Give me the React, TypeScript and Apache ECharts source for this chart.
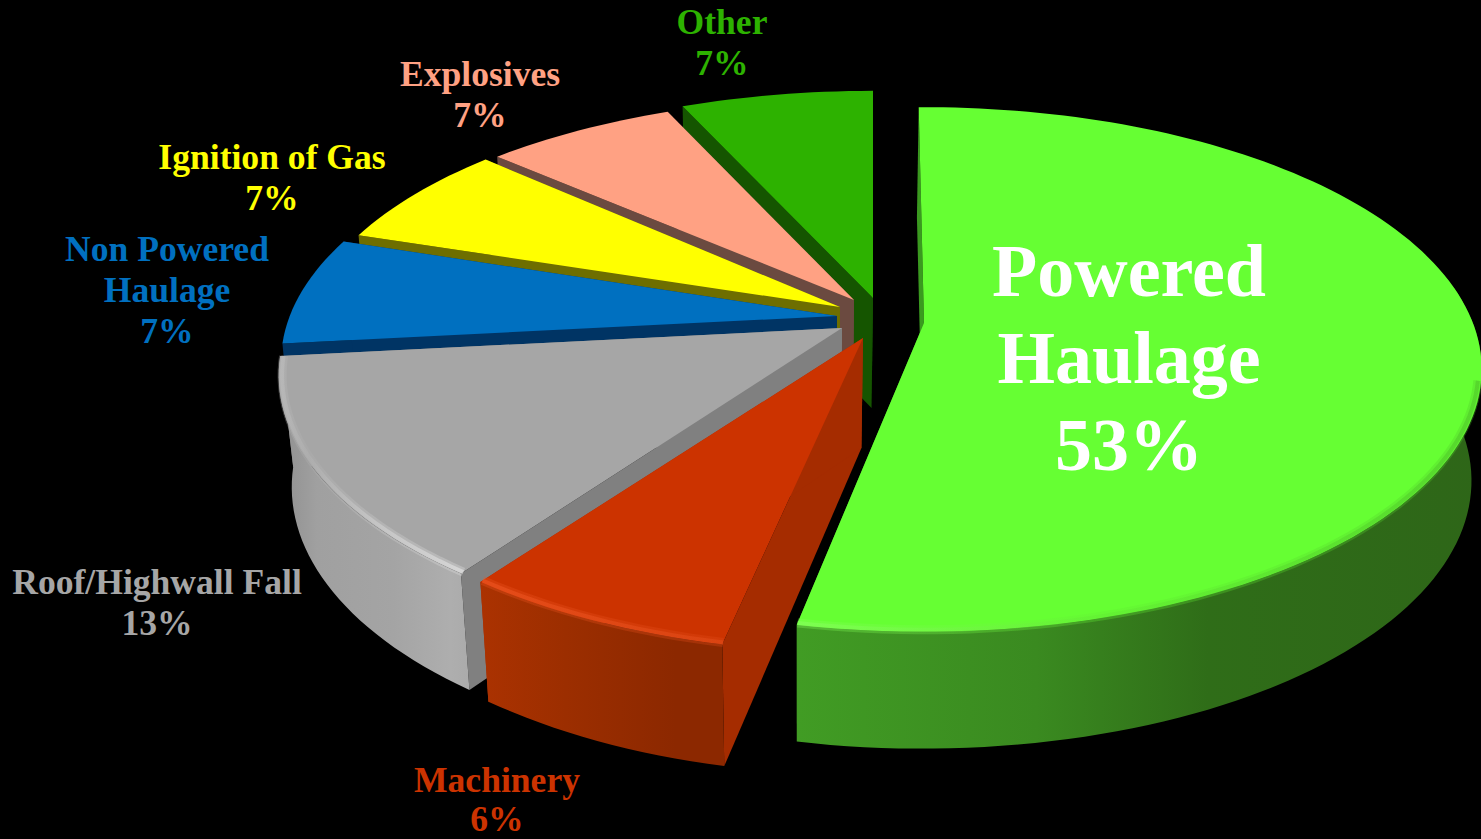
import React, { useEffect, useRef } from "react";
import * as echarts from "echarts";

const categories = ["Powered Haulage", "Machinery", "Roof/Highwall Fall", "Non Powered Haulage", "Ignition of Gas", "Explosives", "Other"];
const sliceValues = [53.3, 6.7, 13.3, 6.7, 6.7, 6.7, 6.7];
const percentLabels = ["53%", "6%", "13%", "7%", "7%", "7%", "7%"];
const labelLines = [["Powered", "Haulage"], ["Machinery"], ["Roof/Highwall Fall"], ["Non Powered", "Haulage"], ["Ignition of Gas"], ["Explosives"], ["Other"]];
const topColors = ["#66ff33", "#cc3300", "#a6a6a6", "#0070c0", "#ffff00", "#ffa183", "#2db200"];
const cutColors = ["#3a9a1f", "#a52c00", "#808080", "#003464", "#6e6e00", "#6b4a40", "#155500"];
const labelColors = ["#ffffff", "#cc3300", "#a6a6a6", "#0070c0", "#ffff00", "#ffa183", "#2db200"];

// layout of each exploded slice (pixels), not data
const RX = 550, RY = 254, K = 0.177, VX = 800;
const layout = [
  { ax: 924, ay: 323, sx: 0.998, sy: 1, rot: -0.65, h: 117, conv: 0.985, bevelFrom: 0.2 },
  { ax: 863, ay: 338, sx: 1.01, sy: 1.02, rot: 0.4, h: 122, conv: 0.975, bevelFrom: 0.03 },
  { ax: 842, ay: 328, sx: 1.008, sy: 1.025, rot: 0.3, h: 118, conv: 0.975, bevelFrom: 0.1 },
  { ax: 837, ay: 316, sx: 0.995, sy: 1, rot: 0.3, h: 110, conv: 0.98, bevelFrom: 1 },
  { ax: 840, ay: 307, sx: 0.97, sy: 0.97, rot: 0.2, h: 110, conv: 0.98, bevelFrom: 1 },
  { ax: 854, ay: 300, sx: 0.98, sy: 0.94, rot: 0.4, h: 110, conv: 0.98, bevelFrom: 1 },
  { ax: 873, ay: 298, sx: 0.985, sy: 0.96, rot: 0, h: 110, conv: 0.98, bevelFrom: 1 },
];
const labelPos = [
  { x: 1129, y: 271, size: 74, lh: 87 },
  { x: 497, y: 780, size: 35.6, lh: 38.5 },
  { x: 157, y: 582, size: 35.6, lh: 41 },
  { x: 167, y: 249, size: 35.6, lh: 41 },
  { x: 272, y: 157, size: 35.6, lh: 41 },
  { x: 480, y: 74, size: 35.6, lh: 41 },
  { x: 722, y: 22, size: 35.6, lh: 41 },
];
const wallStops: any[] = [
  [[0, "#419c24"], [0.35, "#3a8a20"], [0.6, "#2f6d18"], [1, "#2e6618"]],
  [[0, "#ab3201"], [0.35, "#9c2e00"], [0.8, "#8c2800"], [1, "#8c2800"]],
  [[0, "#8f8f8f"], [0.2, "#a0a0a0"], [0.6, "#a4a4a4"], [0.9, "#aeaeae"], [1, "#ababab"]],
  null, null, null, null,
];
const bevelStops: any[] = [
  [[0, "#86ff5c"], [0.45, "#62ee33"], [1, "#50c82a"]],
  [[0, "#ee5522"], [1, "#e04a18"]],
  [[0, "#bdbdbd"], [0.15, "#b0b0b0"], [0.5, "#cfcfcf"], [1, "#e8e8e8"]],
  null, null, null, null,
];

const total = sliceValues.reduce((a, b) => a + b, 0);
const starts = sliceValues.map((_, i) => (sliceValues.slice(0, i).reduce((a, b) => a + b, 0) / total) * 360);
const drawOrder = [6, 5, 4, 3, 2, 1, 0];

function top(i: number, deg: number, scale = 1) {
  const L = layout[i];
  const a = ((deg + L.rot) * Math.PI) / 180;
  const u = Math.sin(a), v = -Math.cos(a), w = 1 - K * v;
  return { x: L.ax + (RX * L.sx * scale * u) / w, y: L.ay + (RY * L.sy * scale * v) / w, v };
}
function bottom(i: number, p: { x: number; y: number; v: number }) {
  const L = layout[i];
  const h = 110 + (L.h - 110) * Math.max(p.v, 0);
  return [VX + (p.x - VX) * L.conv, p.y + h];
}
const grad = (stops: any[]) =>
  new echarts.graphic.LinearGradient(0, 0, 1, 0, stops.map(([offset, color]: any) => ({ offset, color })));

function renderSlice(_: any, api: any) {
  const share = api.value(0) as number;
  const i = api.value(1) as number;
  const t0 = starts[i];
  const t1 = t0 + (share / total) * 360;
  const N = Math.max(12, Math.round((t1 - t0) / 1.5));
  const arc: { x: number; y: number; v: number }[] = [];
  for (let n = 0; n <= N; n++) arc.push(top(i, t0 + ((t1 - t0) * n) / N));
  const L = layout[i];
  const apex = { x: L.ax, y: L.ay, v: 0 };
  const apexB = bottom(i, apex);
  const P = (p: any) => [p.x, p.y];
  const children: any[] = [];
  const cut = (p: any) => ({
    type: "polygon",
    shape: { points: [P(p), P(apex), apexB, bottom(i, p)] },
    style: { fill: cutColors[i] },
  });
  children.push(cut(arc[0]), cut(arc[N]));
  if (wallStops[i]) {
    const front = arc.filter((p) => p.v > -0.15);
    children.push({
      type: "polygon",
      shape: { points: [...front.map(P), ...front.slice().reverse().map((p) => bottom(i, p))] },
      style: { fill: grad(wallStops[i]) },
    });
  }
  children.push({
    type: "polygon",
    shape: { points: [P(apex), ...arc.map(P)] },
    style: { fill: topColors[i] },
  });
  if (bevelStops[i]) {
    const rim: number[][] = [];
    for (let n = 0; n <= N; n++) {
      const p = top(i, t0 + ((t1 - t0) * n) / N, 0.994);
      if (p.v > L.bevelFrom) rim.push([p.x, p.y]);
    }
    children.push(
      { type: "polyline", shape: { points: rim }, style: { fill: "none", stroke: grad(bevelStops[i]), lineWidth: 9, opacity: 0.3 } },
      { type: "polyline", shape: { points: rim }, style: { fill: "none", stroke: grad(bevelStops[i]), lineWidth: 4, opacity: 0.6 } },
    );
  }
  return { type: "group", children };
}

function labelElements() {
  const out: any[] = [];
  categories.forEach((_, i) => {
    const pos = labelPos[i];
    [...labelLines[i], percentLabels[i]].forEach((line, n) => {
      out.push({
        type: "text",
        z: 100,
        x: pos.x,
        y: pos.y + n * pos.lh,
        style: {
          text: line,
          fill: labelColors[i],
          font: `bold ${pos.size}px "Liberation Serif", "Times New Roman", serif`,
          lineHeight: Math.round(pos.size * 0.92),
          align: "center",
          verticalAlign: "middle",
        },
      });
    });
  });
  return out;
}

export default function App() {
  const ref = useRef<HTMLDivElement>(null);
  useEffect(() => {
    document.body.style.margin = "0";
    document.body.style.background = "#000";
    const chart = echarts.init(ref.current!, undefined, { renderer: "svg" });
    chart.setOption({
      animation: false,
      backgroundColor: "#000000",
      series: [
        {
          type: "custom",
          coordinateSystem: "none",
          silent: true,
          renderItem: renderSlice,
          data: drawOrder.map((i) => ({ name: categories[i], value: [sliceValues[i], i] })),
        },
      ],
      graphic: labelElements(),
    });
    return () => chart.dispose();
  }, []);
  return <div ref={ref} style={{ width: 1481, height: 839 }} />;
}
